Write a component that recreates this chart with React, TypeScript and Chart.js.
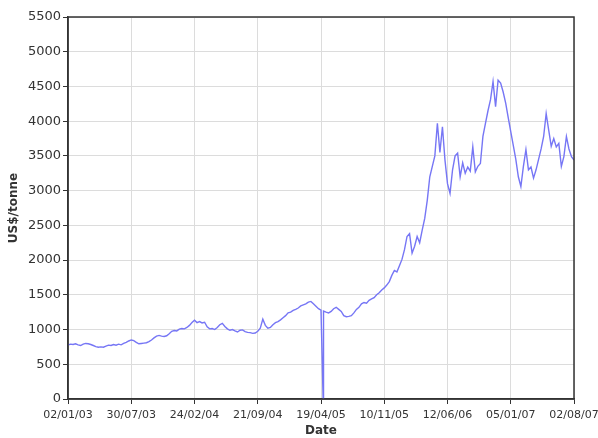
import React, { useEffect, useRef } from "react";
import { Chart, registerables } from "chart.js";

Chart.register(...registerables);

// Trading-day index spacing between consecutive price readings
const SAMPLE_STEP = 6;
// Tick labels (every 150 trading days)
const TICK_STEP = 150;
const tickLabels = [
  "02/01/03", "30/07/03", "24/02/04", "21/09/04", "19/04/05",
  "10/11/05", "12/06/06", "05/01/07", "02/08/07",
];
// Prices in US$/tonne, read every SAMPLE_STEP trading days
const prices = [
  778, 790, 785, 795, 780, 770, 790, 800, 795, 785,
  770, 755, 745, 750, 745, 760, 775, 770, 785, 775,
  790, 780, 800, 815, 835, 850, 840, 815, 795, 800,
  805, 810, 825, 850, 880, 905, 915, 905, 900, 910,
  940, 975, 985, 980, 1005, 1015, 1010, 1030, 1060, 1100,
  1135, 1100, 1115, 1095, 1105, 1040, 1010, 1015, 1000, 1030,
  1070, 1090, 1045, 1010, 990, 1000, 980, 965, 990, 995,
  970, 960, 955, 945, 950, 975, 1020, 1150, 1060, 1020,
  1030, 1070, 1100, 1115, 1140, 1170, 1200, 1240, 1250, 1275,
  1290, 1310, 1340, 1355, 1370, 1395, 1405, 1370, 1335, 1300,
  1280, 1265, 1250, 1240, 1260, 1300, 1320, 1290, 1260, 1200,
  1185, 1190, 1200, 1240, 1290, 1320, 1370, 1390, 1380, 1420,
  1440, 1460, 1500, 1530, 1570, 1600, 1640, 1690, 1780, 1850,
  1830, 1920, 2010, 2150, 2340, 2380, 2100, 2200, 2340, 2250,
  2430, 2600, 2860, 3200, 3350, 3500, 3970, 3550, 3920, 3440,
  3100, 2960, 3300, 3500, 3540, 3200, 3400, 3250, 3340, 3280,
  3630, 3270, 3350, 3390, 3780, 3970, 4150, 4310, 4570, 4210,
  4590, 4550, 4420, 4260, 4050, 3850, 3650, 3450, 3200, 3060,
  3350, 3590, 3300, 3340, 3180, 3300, 3450, 3600, 3780, 4110,
  3870, 3640, 3750, 3630, 3680, 3350, 3490, 3780, 3600, 3490,
  3440,
];
// Erroneous zero reading around 19/04/05
const glitchIndex = 605;
const glitchValue = 0;

const framePlugin = {
  id: "frame",
  afterDraw(chart: any) {
    const { ctx, chartArea } = chart;
    ctx.save();
    ctx.strokeStyle = "#333";
    ctx.lineWidth = 1.5;
    ctx.strokeRect(chartArea.left, chartArea.top, chartArea.right - chartArea.left, chartArea.bottom - chartArea.top);
    ctx.restore();
  },
};

export default function App() {
  const ref = useRef<HTMLCanvasElement>(null);
  useEffect(() => {
    document.body.style.margin = "0";
    const points: { x: number; y: number }[] = prices.map((v, i) => ({ x: i * SAMPLE_STEP, y: v }));
    points.push({ x: glitchIndex, y: glitchValue });
    points.sort((a, b) => a.x - b.x);
    const maxX = (tickLabels.length - 1) * TICK_STEP;
    const chart = new Chart(ref.current!, {
      type: "line",
      data: {
        datasets: [
          {
            data: points,
            borderColor: "rgb(118,118,245)",
            borderWidth: 1.4,
            pointRadius: 0,
            tension: 0,
            fill: false,
          },
        ],
      },
      options: {
        animation: false,
        responsive: false,
        parsing: false as any,
        layout: { padding: { top: 17, right: 24, left: 0, bottom: 0 } },
        plugins: { legend: { display: false }, tooltip: { enabled: false } },
        scales: {
          x: {
            type: "linear",
            min: 0,
            max: maxX,
            afterBuildTicks: (scale: any) => {
              scale.ticks = tickLabels.map((_, i) => ({ value: i * TICK_STEP }));
            },
            afterFit: (scale: any) => {
              scale.height = 39;
              scale.paddingLeft = 0;
              scale.paddingRight = 0;
            },
            ticks: {
              autoSkip: false,
              maxRotation: 0,
              padding: 5,
              color: "#333",
              font: { family: "DejaVu Sans", size: 11 },
              callback: (v: any) => tickLabels[Math.round(Number(v) / TICK_STEP)] ?? "",
            },
            grid: { color: "#dcdcdc", tickColor: "#333", tickLength: 5, lineWidth: 1 },
            border: { color: "#333", width: 1.5 },
            title: {
              display: true,
              text: "Date",
              color: "#333",
              font: { family: "DejaVu Sans", size: 12, weight: "bold" },
              padding: { top: 2, bottom: 0 },
            },
          },
          y: {
            min: 0,
            max: 5500,
            afterBuildTicks: (scale: any) => {
              const t = [];
              for (let v = 0; v <= 5500; v += 500) t.push({ value: v });
              scale.ticks = t;
            },
            afterFit: (scale: any) => {
              scale.width = 68;
              scale.paddingTop = 0;
              scale.paddingBottom = 0;
            },
            ticks: {
              padding: 2,
              color: "#333",
              font: { family: "DejaVu Sans", size: 13 },
              callback: (v: any) => String(v),
            },
            grid: { color: "#dcdcdc", tickColor: "#333", tickLength: 5, lineWidth: 1 },
            border: { color: "#333", width: 1.5 },
            title: {
              display: true,
              text: "US$/tonne",
              color: "#333",
              font: { family: "DejaVu Sans", size: 12, weight: "bold" },
              padding: { top: 7, bottom: 0 },
            },
          },
        },
      },
      plugins: [framePlugin],
    });
    return () => chart.destroy();
  }, []);
  return (
    <div style={{ width: 598, height: 438, background: "#fff" }}>
      <canvas ref={ref} width={598} height={438} style={{ display: "block" }} />
    </div>
  );
}
